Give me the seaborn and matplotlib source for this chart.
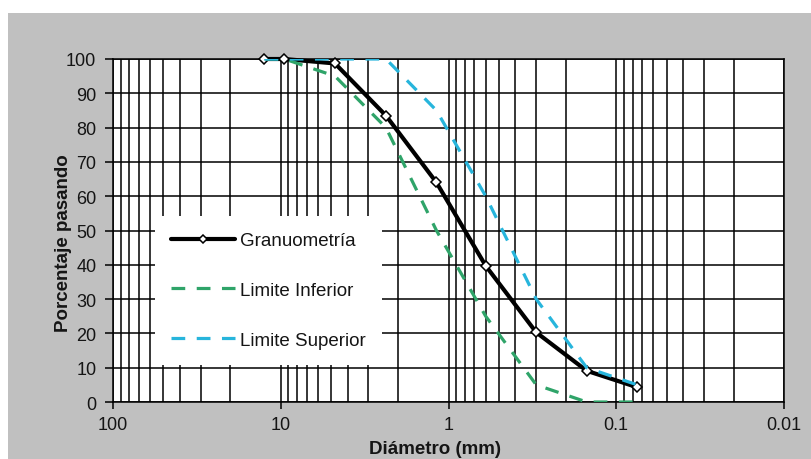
import matplotlib
matplotlib.use("Agg")
import matplotlib.pyplot as plt
from matplotlib.patches import Rectangle
from matplotlib.ticker import FixedLocator, FixedFormatter, LogLocator, NullFormatter
import seaborn as sns
import pandas as pd

# ---- data ----
sizes_mm = [12.5, 9.5, 4.75, 2.36, 1.18, 0.6, 0.3, 0.15, 0.075]
granulometria = [100, 100, 98.7, 83.5, 64.0, 39.7, 20.3, 9.1, 4.3]
limite_inferior = [100, 100, 95, 80, 50, 25, 5, 0, 0]
limite_superior = [100, 100, 100, 100, 85, 60, 30, 10, 5]
x_ticks = [100, 10, 1, 0.1, 0.01]
x_tick_labels = ["100", "10", "1", "0.1", "0.01"]
y_ticks = [0, 10, 20, 30, 40, 50, 60, 70, 80, 90, 100]
series_names = ["Granuometría", "Limite Inferior", "Limite Superior"]

df = pd.DataFrame({"d": sizes_mm, "g": granulometria,
                   "li": limite_inferior, "ls": limite_superior})

sns.set_style("white")
plt.rcParams["font.family"] = ["Liberation Sans", "DejaVu Sans"]

W, H = 811, 460
fig = plt.figure(figsize=(W / 100, H / 100), dpi=100)
fig.patch.set_facecolor("white")
fig.patches.append(Rectangle((8 / W, 0), 1 - 8 / W, 1 - 14 / H,
                             transform=fig.transFigure, facecolor="#c0c0c0",
                             edgecolor="none", zorder=-10))

ax = fig.add_axes([113 / W, 1 - 403 / H, 671 / W, 343 / H])
ax.set_facecolor("white")

green = "#2fa469"
cyan = "#27b5dc"

sns.lineplot(data=df, x="d", y="g", ax=ax, color="black", linewidth=3.0,
             marker="D", markersize=4.8, markerfacecolor="white",
             markeredgecolor="black", markeredgewidth=1.1,
             label=series_names[0], sort=False, zorder=4, clip_on=False)
sns.lineplot(data=df, x="d", y="li", ax=ax, color=green, linewidth=2.3,
             linestyle=(0, (4.3, 3.6)), label=series_names[1], sort=False,
             zorder=5)
sns.lineplot(data=df, x="d", y="ls", ax=ax, color=cyan, linewidth=2.3,
             linestyle=(0, (4.3, 3.6)), label=series_names[2], sort=False,
             zorder=6)

ax.set_xscale("log")
ax.set_xlim(100, 0.01)
ax.set_ylim(0, 100)
ax.xaxis.set_major_locator(FixedLocator(x_ticks))
ax.xaxis.set_major_formatter(FixedFormatter(x_tick_labels))
ax.xaxis.set_minor_locator(LogLocator(base=10, subs=[2, 3, 4, 5, 6, 7, 8, 9]))
ax.xaxis.set_minor_formatter(NullFormatter())
ax.set_yticks(y_ticks)

ax.grid(True, which="both", axis="x", color="black", linewidth=1.1)
ax.grid(True, which="major", axis="y", color="black", linewidth=1.1)
ax.set_axisbelow(True)
for s in ax.spines.values():
    s.set_color("black")
    s.set_linewidth(1.1)

ax.tick_params(axis="x", which="major", length=5, width=1.1, pad=5,
               labelsize=13, colors="black", direction="out", bottom=True)
ax.tick_params(axis="x", which="minor", length=0)
ax.tick_params(axis="y", which="major", length=6, width=1.1, pad=6,
               labelsize=13, colors="black", direction="out", left=True)
for t in ax.get_xticklabels() + ax.get_yticklabels():
    t.set_color("#151515")

ax.set_xlabel("Diámetro (mm)", fontsize=13.5, fontweight="bold", color="#151515")
ax.set_ylabel("Porcentaje pasando", fontsize=13.5, fontweight="bold", color="#151515")
ax.xaxis.set_label_coords((435 - 113) / 671, -0.112)
ax.yaxis.set_label_coords((72 - 113) / 671, 0.465)

leg = ax.legend(loc="upper left", bbox_to_anchor=((155 - 113) / 671, (403 - 217) / 343),
                borderaxespad=0, frameon=True, fancybox=False, framealpha=1,
                facecolor="white", edgecolor="white", fontsize=13.5,
                handlelength=3.4, handletextpad=0.3, labelspacing=1.75,
                borderpad=0.85, numpoints=1, markerscale=0.8)
leg.get_frame().set_linewidth(0)
leg.set_zorder(10)
for t in leg.get_texts():
    t.set_color("#151515")

fig.savefig("out.png", dpi=100)
